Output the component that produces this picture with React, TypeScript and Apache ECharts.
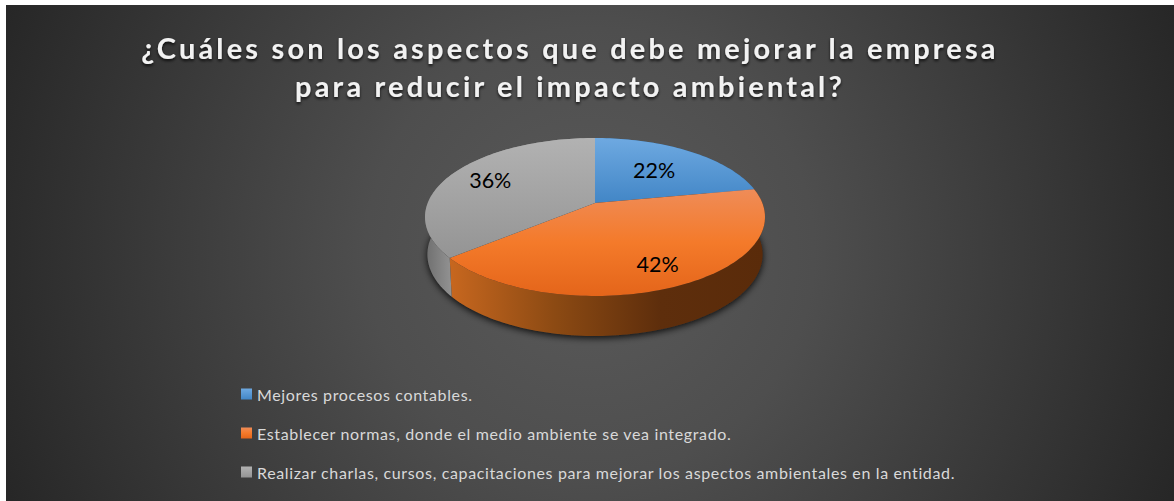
import React, { useEffect, useRef } from "react";
import * as echarts from "echarts";

const titleText = "¿Cuáles son los aspectos que debe mejorar la empresa\npara reducir el impacto ambiental?";
const categories = [
  "Mejores procesos contables.",
  "Establecer normas, donde el medio ambiente se vea integrado.",
  "Realizar charlas, cursos, capacitaciones para mejorar los aspectos ambientales en la entidad.",
];
const values = [22, 42, 36];
const labelReach = [0.6, 0.77, 0.73];
const topStops = [
  ["#6EA9E1", "#4286C6"],
  ["#EF8C58", "#F47A2A", "#E4651A"],
  ["#B2B2B2", "#949494"],
];
const wallStops = [
  ["#2E5F8E", "#2E5F8E"],
  ["#C7671F", "#8C4A13", "#5E2E0C", "#5A2B0A"],
  ["#6E6E6E", "#959595", "#959595", "#959595", "#959595", "#959595", "#959595"],
];

const FONT = "Lato";
const total = values.reduce((a, b) => a + b, 0);
const CX = 595;
const K = 0.177;
const top = { y0: 203, a: 167.3, b: 76.5 };
const rim = { y0: 240, a: 165, b: 79 };

type Disk = { y0: number; a: number; b: number };
function project(d: Disk, frac: number, reach = 1): number[] {
  const t = frac * 2 * Math.PI;
  const X = Math.sin(t) * reach;
  const Y = Math.cos(t) * reach;
  const s = 1 / (1 + K * Y);
  return [CX + d.a * X * s, d.y0 - d.b * Y * s];
}
function arc(d: Disk, f0: number, f1: number): number[][] {
  const n = Math.max(2, Math.ceil((f1 - f0) * 240));
  const pts: number[][] = [];
  for (let i = 0; i <= n; i++) pts.push(project(d, f0 + ((f1 - f0) * i) / n));
  return pts;
}
function grad(stops: string[], horizontal: boolean) {
  return {
    type: "linear",
    x: 0,
    y: 0,
    x2: horizontal ? 1 : 0,
    y2: horizontal ? 0 : 1,
    colorStops: stops.map((color, i) => ({ offset: i / (stops.length - 1), color })),
  };
}
const starts = values.map((_, i) => values.slice(0, i).reduce((a, b) => a + b, 0) / total);
const ends = values.map((_, i) => values.slice(0, i + 1).reduce((a, b) => a + b, 0) / total);

function buildOption() {
  const shadowSeries = {
    type: "custom",
    name: "shadow",
    coordinateSystem: "none",
    silent: true,
    z: 1,
    data: [total],
    renderItem: () => ({
      type: "polygon",
      shape: { points: arc(rim, 0, 1) },
      style: {
        fill: "#2a2a2a",
        shadowBlur: 7,
        shadowColor: "rgba(0,0,0,0.85)",
        shadowOffsetX: 0,
        shadowOffsetY: 2,
      },
    }),
  };
  const wallSeries = values.map((v, i) => ({
    type: "custom",
    name: "wall " + i,
    coordinateSystem: "none",
    silent: true,
    z: 2,
    data: [v],
    renderItem: () => ({
      type: "polygon",
      shape: {
        points: [...arc(top, starts[i], ends[i]), ...arc(rim, starts[i], ends[i]).reverse()],
      },
      style: { fill: grad(wallStops[i], true) },
    }),
  }));
  const topSeries = values.map((v, i) => ({
    type: "custom",
    name: categories[i],
    coordinateSystem: "none",
    silent: true,
    z: 3,
    itemStyle: { color: grad(topStops[i], false) },
    data: [v],
    renderItem: () => ({
      type: "polygon",
      shape: { points: [[CX, top.y0], ...arc(top, starts[i], ends[i])] },
      style: { fill: grad(topStops[i], false) },
    }),
  }));
  const labelSeries = {
    type: "custom",
    name: "labels",
    coordinateSystem: "none",
    silent: true,
    z: 4,
    data: values.map((v, i) => [v, i]),
    renderItem: (_: unknown, api: any) => {
      const v = api.value(0);
      const i = api.value(1);
      const [x, y] = project(top, (starts[i] + ends[i]) / 2, labelReach[i]);
      return {
        type: "text",
        style: {
          text: `${v}%`,
          x,
          y,
          align: "center",
          verticalAlign: "middle",
          fill: "#000000",
          fontFamily: FONT,
          fontSize: 21.5,
        },
      };
    },
  };
  return {
    animation: false,
    backgroundColor: "#FFFFFF",
    graphic: [
      {
        type: "rect",
        z: -10,
        silent: true,
        shape: { x: 6, y: 5, width: 1168, height: 496 },
        style: {
          fill: {
            type: "radial",
            x: 590,
            y: 252,
            r: 640,
            global: true,
            colorStops: [
              { offset: 0, color: "#5A5A5A" },
              { offset: 0.35, color: "#4E4E4E" },
              { offset: 1, color: "#262626" },
            ],
          },
        },
      },
    ],
    title: {
      text: titleText,
      left: 570,
      top: 28,
      textAlign: "center",
      padding: 0,
      textStyle: {
        fontFamily: FONT,
        fontWeight: "bold",
        fontSize: 29,
        lineHeight: 38,
        color: "#F2F2F2",
        textShadowColor: "rgba(0,0,0,0.75)",
        textShadowBlur: 3,
        textShadowOffsetX: 0,
        textShadowOffsetY: 2,
      },
    },
    legend: {
      orient: "vertical",
      left: 241,
      top: 386,
      padding: 0,
      itemWidth: 11,
      itemHeight: 11,
      itemGap: 23,
      selectedMode: false,
      textStyle: { color: "#D9D9D9", fontFamily: FONT, fontSize: 16 },
      data: categories.map((name, i) => ({
        name,
        icon: "rect",
        itemStyle: { color: grad(topStops[i], false) },
      })),
    },
    series: [shadowSeries, ...wallSeries, ...topSeries, labelSeries],
  };
}

export default function App() {
  const ref = useRef<HTMLDivElement>(null);
  useEffect(() => {
    document.body.style.margin = "0";
    const chart = echarts.init(ref.current!, undefined, { renderer: "svg" });
    chart.setOption(buildOption() as any);
    return () => chart.dispose();
  }, []);
  return (
    <>
      <style>{`#pie-chart svg text[style*="bold"] { letter-spacing: 3.16px; }
#pie-chart svg text[style*="16px"] { letter-spacing: 0.64px; }`}</style>
      <div id="pie-chart" ref={ref} style={{ width: 1174, height: 501 }} />
    </>
  );
}
